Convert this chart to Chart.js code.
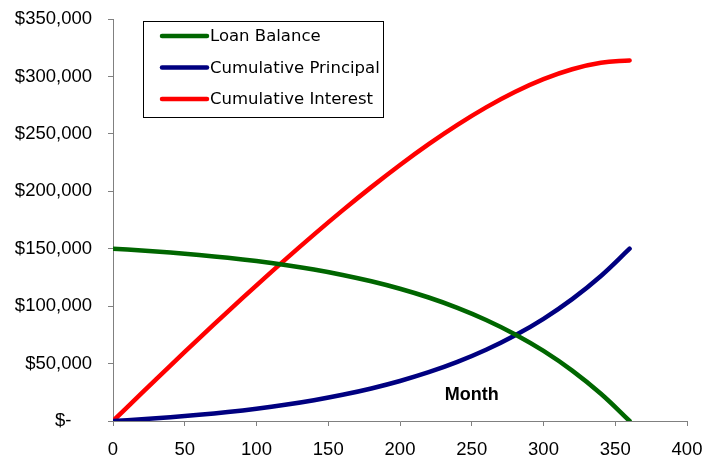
<!DOCTYPE html>
<html>
<head>
<meta charset="utf-8">
<script src="https://cdn.jsdelivr.net/npm/chart.js@4"></script>
<style>
  html, body { margin: 0; padding: 0; background: #fff; }
  #wrap { width: 711px; height: 459px; position: relative; }
</style>
</head>
<body>
<div id="wrap"><canvas id="c" width="711" height="459"></canvas></div>
<script>
const months = [0, 20, 40, 60, 80, 100, 120, 140, 160, 180, 200, 220, 240, 260, 280, 300, 320, 340, 360];
const loanBalance = [150000, 148486, 146707, 144615, 142157, 139266, 135867, 131871, 127174, 121651, 115157, 107523, 98548, 87997, 75591, 61006, 43860, 23700, 0];
const cumulativePrincipal = [0, 1514, 3293, 5385, 7843, 10734, 14133, 18129, 22826, 28349, 34843, 42477, 51452, 62003, 74409, 88994, 106140, 126300, 150000];
const cumulativeInterest = [0, 24261, 48256, 71939, 95255, 118139, 140515, 162293, 183371, 203622, 222903, 241044, 257843, 273067, 286435, 297625, 306254, 311868, 313943];
const seriesNames = ['Loan Balance', 'Cumulative Principal', 'Cumulative Interest'];
const seriesColors = ['#006600', '#000080', '#ff0000'];
const xTitle = 'Month';

function pts(vals) { return months.map((m, i) => ({ x: m, y: vals[i] })); }

const boxLegend = {
  id: 'boxLegend',
  afterDraw(chart) {
    const ctx = chart.ctx, a = chart.chartArea;
    const left = a.left + 30, top = a.top + 2, w = 240, h = 96;
    ctx.save();
    ctx.strokeStyle = '#000';
    ctx.lineWidth = 1;
    ctx.strokeRect(left + 0.5, top + 0.5, w, h);
    ctx.font = '16.5px "DejaVu Sans"';
    ctx.textBaseline = 'middle';
    ctx.fillStyle = '#000';
    chart.data.datasets.forEach((ds, i) => {
      const y = top + 15 + i * 31.5;
      ctx.strokeStyle = ds.borderColor;
      ctx.lineWidth = 4.5;
      ctx.lineCap = 'round';
      ctx.beginPath();
      ctx.moveTo(left + 19, y);
      ctx.lineTo(left + 64, y);
      ctx.stroke();
      ctx.fillText(ds.label, left + 67, y + 1);
    });
    // axis title inside plot
    const xs = chart.scales.x;
    ctx.font = 'bold 18px "Liberation Sans"';
    ctx.textAlign = 'center';
    ctx.fillText(xTitle, xs.getPixelForValue(250), a.bottom - 26);
    ctx.restore();
  }
};

function zeroPad(s) { s.paddingTop = 0; s.paddingBottom = 0; s.paddingLeft = 0; s.paddingRight = 0; }

new Chart(document.getElementById('c'), {
  type: 'line',
  data: {
    datasets: [
      { label: seriesNames[0], data: pts(loanBalance), borderColor: seriesColors[0] },
      { label: seriesNames[1], data: pts(cumulativePrincipal), borderColor: seriesColors[1] },
      { label: seriesNames[2], data: pts(cumulativeInterest), borderColor: seriesColors[2] }
    ].map(d => Object.assign(d, { borderWidth: 4.5, pointRadius: 0, tension: 0.4, fill: false, borderCapStyle: 'round', borderJoinStyle: 'round' }))
  },
  options: {
    responsive: false,
    animation: false,
    layout: { padding: { top: 19, right: 24, left: 0, bottom: 0 } },
    plugins: { legend: { display: false }, tooltip: { enabled: false } },
    scales: {
      x: {
        type: 'linear', min: 0, max: 400,
        ticks: { stepSize: 50, color: '#000', font: { family: 'Liberation Sans', size: 18.5 }, padding: 13, maxRotation: 0 },
        grid: { drawOnChartArea: false, drawTicks: true, tickLength: 5, color: '#808080' },
        border: { color: '#808080', width: 1 },
        afterFit(s) { s.height = 38; zeroPad(s); }
      },
      y: {
        min: 0, max: 350000,
        ticks: {
          stepSize: 50000, color: '#000', font: { family: 'Liberation Sans', size: 18.5 }, padding: 16,
          callback: v => v === 0 ? '$-    ' : '$' + v.toLocaleString('en-US')
        },
        grid: { drawOnChartArea: false, drawTicks: true, tickLength: 5, color: '#808080' },
        border: { color: '#808080', width: 1 },
        afterFit(s) { s.width = 113; zeroPad(s); }
      }
    }
  },
  plugins: [boxLegend]
});
</script>
</body>
</html>
